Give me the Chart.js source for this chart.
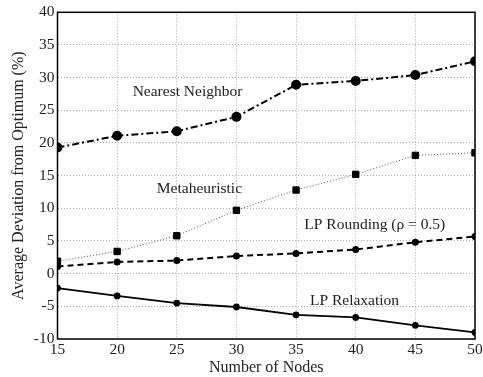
<!DOCTYPE html>
<html>
<head>
<meta charset="utf-8">
<script src="https://cdn.jsdelivr.net/npm/chart.js@4"></script>
<style>
  html, body { margin: 0; padding: 0; background: #fff; }
  #wrap { width: 483px; height: 377px; }
</style>
</head>
<body>
<div id="wrap"><canvas id="chart" width="483" height="377"></canvas></div>
<script>
const nodes = [15, 20, 25, 30, 35, 40, 45, 50];
const nearestNeighbor = [19.3, 21.1, 21.8, 24.0, 28.9, 29.5, 30.4, 32.5];
const metaheuristic = [1.9, 3.4, 5.8, 9.7, 12.8, 15.2, 18.1, 18.5];
const lpRounding = [1.1, 1.8, 2.0, 2.7, 3.1, 3.7, 4.8, 5.7];
const lpRelaxation = [-2.2, -3.4, -4.5, -5.1, -6.3, -6.7, -7.9, -9.0];

// text labels placed in data coordinates
const notes = [
  { text: 'Nearest Neighbor', x: 25.9, y: 27.8 },
  { text: 'Metaheuristic', x: 26.9, y: 12.9 },
  { text: 'LP Rounding (\u03C1 = 0.5)', x: 41.6, y: 7.5 },
  { text: 'LP Relaxation', x: 39.9, y: -4.1 }
];

const FONT = '"Liberation Serif", "DejaVu Serif", serif';

const pts = arr => arr.map((v, i) => ({ x: nodes[i], y: v }));

const notesPlugin = {
  id: 'notes',
  afterDatasetsDraw(chart) {
    const { ctx, scales } = chart;
    ctx.save();
    ctx.font = '15.5px ' + FONT;
    ctx.fillStyle = '#222';
    ctx.textAlign = 'center';
    ctx.textBaseline = 'middle';
    notes.forEach(n => {
      ctx.fillText(n.text, scales.x.getPixelForValue(n.x), scales.y.getPixelForValue(n.y));
    });
    ctx.restore();
  }
};

const framePlugin = {
  id: 'frame',
  afterDraw(chart) {
    const { ctx, chartArea: a } = chart;
    ctx.save();
    ctx.strokeStyle = '#000';
    ctx.lineWidth = 1.5;
    ctx.strokeRect(a.left, a.top, a.right - a.left, a.bottom - a.top);
    ctx.restore();
  }
};

new Chart(document.getElementById('chart'), {
  type: 'line',
  data: {
    datasets: [
      {
        label: 'Nearest Neighbor',
        data: pts(nearestNeighbor),
        borderColor: '#000',
        backgroundColor: '#000',
        borderWidth: 2,
        borderDash: [7, 3, 2, 3],
        pointStyle: 'circle',
        pointRadius: 4
      },
      {
        label: 'Metaheuristic',
        data: pts(metaheuristic),
        borderColor: '#555',
        backgroundColor: '#000',
        pointBorderColor: '#000',
        borderWidth: 1,
        borderDash: [1, 2],
        pointStyle: 'rect',
        pointRadius: 4.5
      },
      {
        label: 'LP Rounding',
        data: pts(lpRounding),
        borderColor: '#000',
        backgroundColor: '#000',
        borderWidth: 2,
        borderDash: [6, 4],
        pointStyle: 'circle',
        pointRadius: 2.5
      },
      {
        label: 'LP Relaxation',
        data: pts(lpRelaxation),
        borderColor: '#000',
        backgroundColor: '#000',
        borderWidth: 1.8,
        pointStyle: 'circle',
        pointRadius: 2.5
      }
    ]
  },
  options: {
    responsive: false,
    animation: false,
    layout: { padding: { top: 10, right: 0, left: 9, bottom: 0 } },
    plugins: {
      legend: { display: false },
      tooltip: { enabled: false }
    },
    scales: {
      x: {
        type: 'linear',
        min: 15,
        max: 50,
        ticks: { stepSize: 5, color: '#222', font: { family: FONT, size: 15.5 }, padding: 2 },
        grid: { color: '#aaa', drawTicks: false },
        border: { display: false, dash: [1, 2] },
        title: { display: true, text: 'Number of Nodes', color: '#222', font: { family: FONT, size: 16 }, padding: 0 },
        afterFit(s) { s.height = 38; s.paddingRight = 8; }
      },
      y: {
        min: -10,
        max: 40,
        ticks: { stepSize: 5, color: '#222', font: { family: FONT, size: 15.5 }, padding: 3 },
        grid: { color: '#aaa', drawTicks: false },
        border: { display: false, dash: [1, 2] },
        title: { display: true, text: 'Average Deviation from Optimum (%)', color: '#222', font: { family: FONT, size: 16 }, padding: 0 },
        afterFit(s) { s.width = 48.5; }
      }
    }
  },
  plugins: [notesPlugin, framePlugin]
});
</script>
</body>
</html>
